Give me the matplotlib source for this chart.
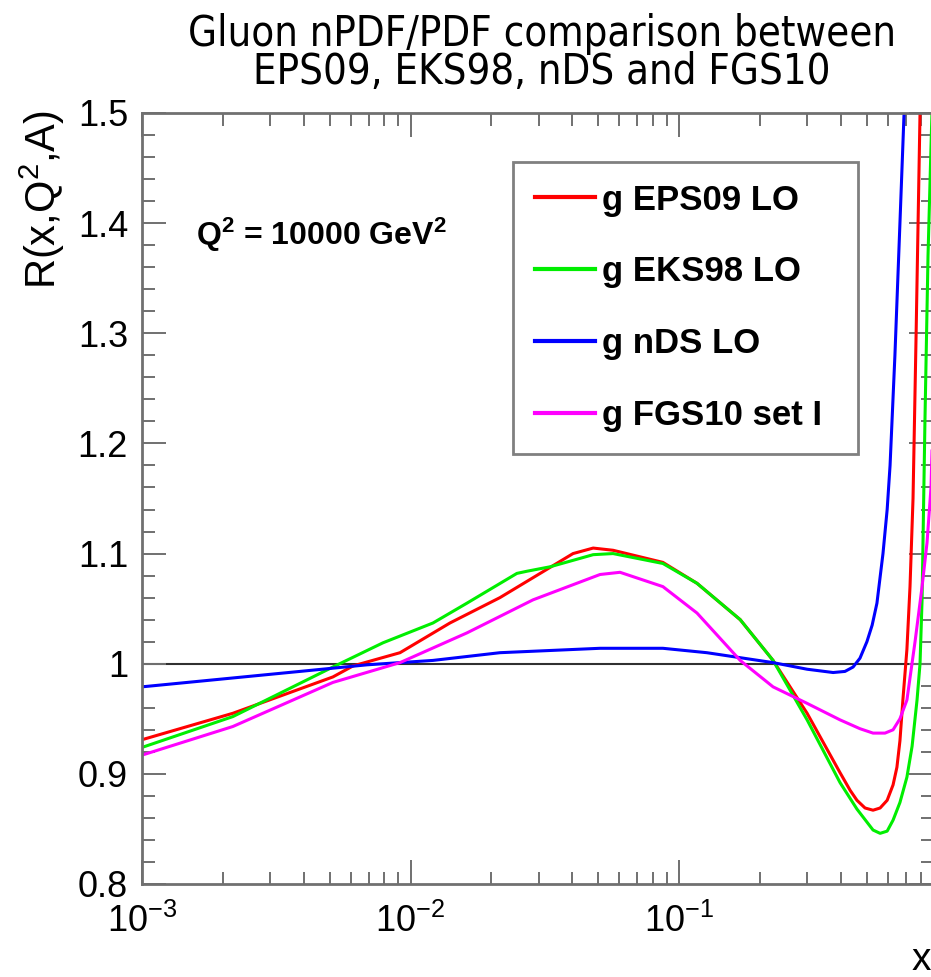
#!/bin/py
#
# gluon nPDF/PDF ratio, ROOT style look
#
import numpy as np
import matplotlib
matplotlib.use('Agg')
import matplotlib.pyplot as plt
from matplotlib.ticker import LogLocator, FixedLocator

plt.rcParams['font.family'] = ['Liberation Sans', 'DejaVu Sans']
plt.rcParams['mathtext.fontset'] = 'custom'
plt.rcParams['mathtext.rm'] = 'Liberation Sans'
plt.rcParams['mathtext.it'] = 'Liberation Sans:italic'
plt.rcParams['mathtext.bf'] = 'Liberation Sans:bold'

# data
eps09_x = [1.0e-3, 2.18e-3, 5.14e-3, 6.11e-3, 9.14e-3, 1.403e-2, 2.153e-2, 3.04e-2,
           4.03e-2, 4.79e-2, 5.68e-2, 8.71e-2, 0.1167, 0.169, 0.224, 0.300, 0.398,
           0.434, 0.460, 0.493, 0.528, 0.561, 0.596, 0.627, 0.648, 0.665, 0.682,
           0.706, 0.725, 0.744, 0.764, 0.790, 0.83]
eps09_r = [0.931, 0.955, 0.988, 0.998, 1.010, 1.037, 1.060, 1.082,
           1.100, 1.105, 1.103, 1.092, 1.073, 1.040, 1.003, 0.955, 0.901,
           0.885, 0.876, 0.869, 0.867, 0.869, 0.876, 0.890, 0.906, 0.930, 0.967,
           1.013, 1.070, 1.150, 1.300, 1.500, 1.8]

eks98_x = [1.0e-3, 2.18e-3, 5.14e-3, 7.90e-3, 1.213e-2, 1.623e-2, 2.49e-2, 2.72e-2,
           3.31e-2, 4.79e-2, 5.68e-2, 8.71e-2, 0.1167, 0.169, 0.224, 0.300, 0.398,
           0.460, 0.528, 0.561, 0.596, 0.627, 0.665, 0.706, 0.738, 0.770, 0.790,
           0.804, 0.824, 0.846, 0.868, 0.9]
eks98_r = [0.924, 0.952, 0.997, 1.019, 1.037, 1.055, 1.082, 1.084,
           1.088, 1.099, 1.100, 1.091, 1.073, 1.040, 1.003, 0.949, 0.892,
           0.868, 0.849, 0.846, 0.848, 0.858, 0.874, 0.897, 0.925, 0.967, 1.000,
           1.058, 1.220, 1.370, 1.470, 1.6]

nds_x = [1.0e-3, 3.87e-3, 6.89e-3, 1.213e-2, 2.153e-2, 5.08e-2, 8.71e-2, 0.127,
         0.224, 0.300, 0.375, 0.415, 0.445, 0.472, 0.501, 0.524, 0.546, 0.575,
         0.596, 0.611, 0.637, 0.665, 0.689, 0.72]
nds_r = [0.979, 0.993, 0.999, 1.003, 1.010, 1.014, 1.014, 1.010,
         1.001, 0.995, 0.992, 0.993, 0.997, 1.005, 1.020, 1.035, 1.055, 1.100,
         1.140, 1.180, 1.280, 1.400, 1.500, 1.7]

fgs10_x = [1.0e-3, 2.18e-3, 5.14e-3, 9.14e-3, 1.623e-2, 2.86e-2, 5.08e-2, 6.03e-2,
           8.71e-2, 0.1167, 0.169, 0.224, 0.300, 0.398, 0.472, 0.528, 0.585,
           0.627, 0.665, 0.706, 0.757, 0.804, 0.839, 0.868, 0.9]
fgs10_r = [0.917, 0.943, 0.983, 1.001, 1.028, 1.058, 1.081, 1.083,
           1.070, 1.046, 1.003, 0.979, 0.964, 0.949, 0.941, 0.937, 0.937,
           0.940, 0.950, 0.967, 1.020, 1.070, 1.110, 1.160, 1.3]

labels = ['g EPS09 LO', 'g EKS98 LO', 'g nDS LO', 'g FGS10 set I']
colors = ['#ff0000', '#00ee00', '#0000ff', '#ff00ff']

yticks = [0.8, 0.9, 1.0, 1.1, 1.2, 1.3, 1.4, 1.5]
ytick_labels = ['0.8', '0.9', '1', '1.1', '1.2', '1.3', '1.4', '1.5']
xticks = [1e-3, 1e-2, 1e-1]
xtick_labels = [r'$10^{-3}$', r'$10^{-2}$', r'$10^{-1}$']


#
# main function: execute
#
def main():

    fig = plt.figure(figsize=(9.31, 9.77), dpi=100)
    ax = fig.add_axes([142/931., 93/977., 791/931., 771/977.])

    xmin = 1e-3
    xmax = 0.883
    ymin = 0.8
    ymax = 1.5

    # reference line at R = 1
    ax.axhline(1.0, color='#303030', linewidth=1.5, zorder=1)

    series = [(eps09_x, eps09_r), (eks98_x, eks98_r), (nds_x, nds_r), (fgs10_x, fgs10_r)]
    for (xs, rs), lab, col in zip(series, labels, colors):
        ax.plot(xs, rs, color=col, linewidth=2.2, label=lab, zorder=2)

    ax.set_xscale('log')
    ax.set_xlim([xmin, xmax])
    ax.set_ylim([ymin, ymax])

    ax.xaxis.set_major_locator(FixedLocator(xticks))
    ax.xaxis.set_minor_locator(LogLocator(base=10, subs=np.arange(2, 10)))
    ax.set_xticklabels(xtick_labels)
    ax.yaxis.set_major_locator(FixedLocator(yticks))
    ax.yaxis.set_minor_locator(FixedLocator(np.arange(0.80, 1.501, 0.02)))
    ax.set_yticklabels(ytick_labels)

    spine_col = '#707070'
    for s in ax.spines.values():
        s.set_color(spine_col)
        s.set_linewidth(2.0)
    ax.tick_params(which='both', direction='in', top=True, right=True,
                   color=spine_col, width=1.4, labelsize=26)
    ax.tick_params(which='major', length=17)
    ax.tick_params(which='minor', length=9)
    ax.tick_params(axis='x', pad=14)
    ax.tick_params(axis='y', pad=10)

    # axis titles, ROOT puts them at the ends
    fig.text(42/931., 1 - 110/977., r'R(x,Q$^{2}$,A)', rotation=90, ha='center',
             va='top', fontsize=30)
    fig.text(931/931., 1 - 960/977., 'x', ha='right', va='center', fontsize=28)

    fig.text(196/931., 1 - 235/977., r'Q$^{\mathbf{2}}$ = 10000 GeV$^{\mathbf{2}}$',
             fontsize=23, fontweight='bold', va='center')

    leg = ax.legend(loc='upper left', bbox_to_anchor=(0.469, 0.5, 0.436, 0.4364),
                    mode='expand', borderaxespad=0, fancybox=False, framealpha=1,
                    edgecolor='#808080', handlelength=1.75, handletextpad=0.2,
                    labelspacing=1.12, borderpad=0.62,
                    prop={'size': 25, 'weight': 'bold'})
    leg.get_frame().set_linewidth(2.0)
    for line in leg.get_lines():
        line.set_linewidth(3)

    # title, two lines
    fig.text(542/931., 1 - 53/977.,
             'Gluon nPDF/PDF comparison between\nEPS09, EKS98, nDS and FGS10',
             ha='center', va='center', fontsize=30, family='DejaVu Sans',
             fontstretch='condensed', linespacing=0.88)

    plt.savefig('out.png', dpi=100)

#
# EXECUTE
#
main()
